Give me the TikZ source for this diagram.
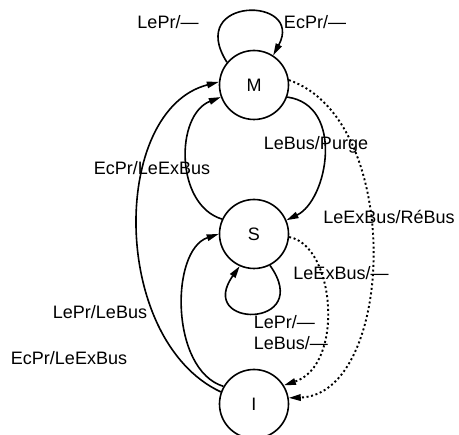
\documentclass[tikz,border=0pt]{standalone}
\usepackage{fontspec}
\setmainfont{Liberation Sans}
\usetikzlibrary{arrows.meta, positioning}

\begin{document}
\begin{tikzpicture}[x=1pt, y=1pt, line width=1.6pt, >={Triangle[length=12pt,width=6.5pt]},
    font=\fontsize{18}{20}\selectfont]
    \tikzstyle{state}=[circle, draw=black, minimum size=69pt, inner sep=0pt]
    \tikzstyle{annot}=[inner sep=0pt]
    \tikzstyle{lost}=[line width=1.9pt, dash pattern=on 2pt off 2.6pt]

    \useasboundingbox (0,0) rectangle (459,-435);

    % Draw the three states
    \foreach \name / \y in {M/85, S/234, I/404}
        \node[state] (\name) at (254,-\y) {\name};

    % Loops on M and S
    \draw[->] (M.140) .. controls (185,4) and (305,4) .. (M.57);
    \draw[->] (S.-63) .. controls (315,-329) and (195,-329) .. (S.-114);

    % Solid transitions between the states
    \draw[->] (M.-20) .. controls (345,-105) and (328,-200) .. (S.23);
    \draw[->] (S.155) .. controls (175,-205) and (175,-115) .. (M.200);
    \draw[->] (I.160) .. controls (110,-340) and (110,-110) .. (M.175);
    \draw[->] (I.150) .. controls (170,-370) and (170,-250) .. (S.180);

    % Dotted transitions down to I
    \draw[->, lost] (M.8) .. controls (405,-120) and (395,-395) .. (I.10);
    \draw[->, lost] (S.-5) .. controls (335,-245) and (345,-365) .. (I.32);

    % Labels
    \node[annot] (mloop-a) at (168,-22) {LePr/—};
    \node[annot] (mloop-b) at (315,-22) {EcPr/—};
    \node[annot] (ms) at (316,-145) {LeBus/Purge};
    \node[annot] (sm) at (152,-168) {EcPr/LeExBus};
    \node[annot] (mi) at (389,-217) {LeExBus/RéBus};
    \node[annot] (si) at (341,-273) {LeExBus/—};
    \node[annot, anchor=west] (sloop-a) at (253,-322) {LePr/—};
    \node[annot, anchor=west] (sloop-b) at (253,-343) {LeBus/—};
    \node[annot] (im-a) at (100,-312) {LePr/LeBus};
    \node[annot] (im-b) at (69,-358) {EcPr/LeExBus};
\end{tikzpicture}
\end{document}
